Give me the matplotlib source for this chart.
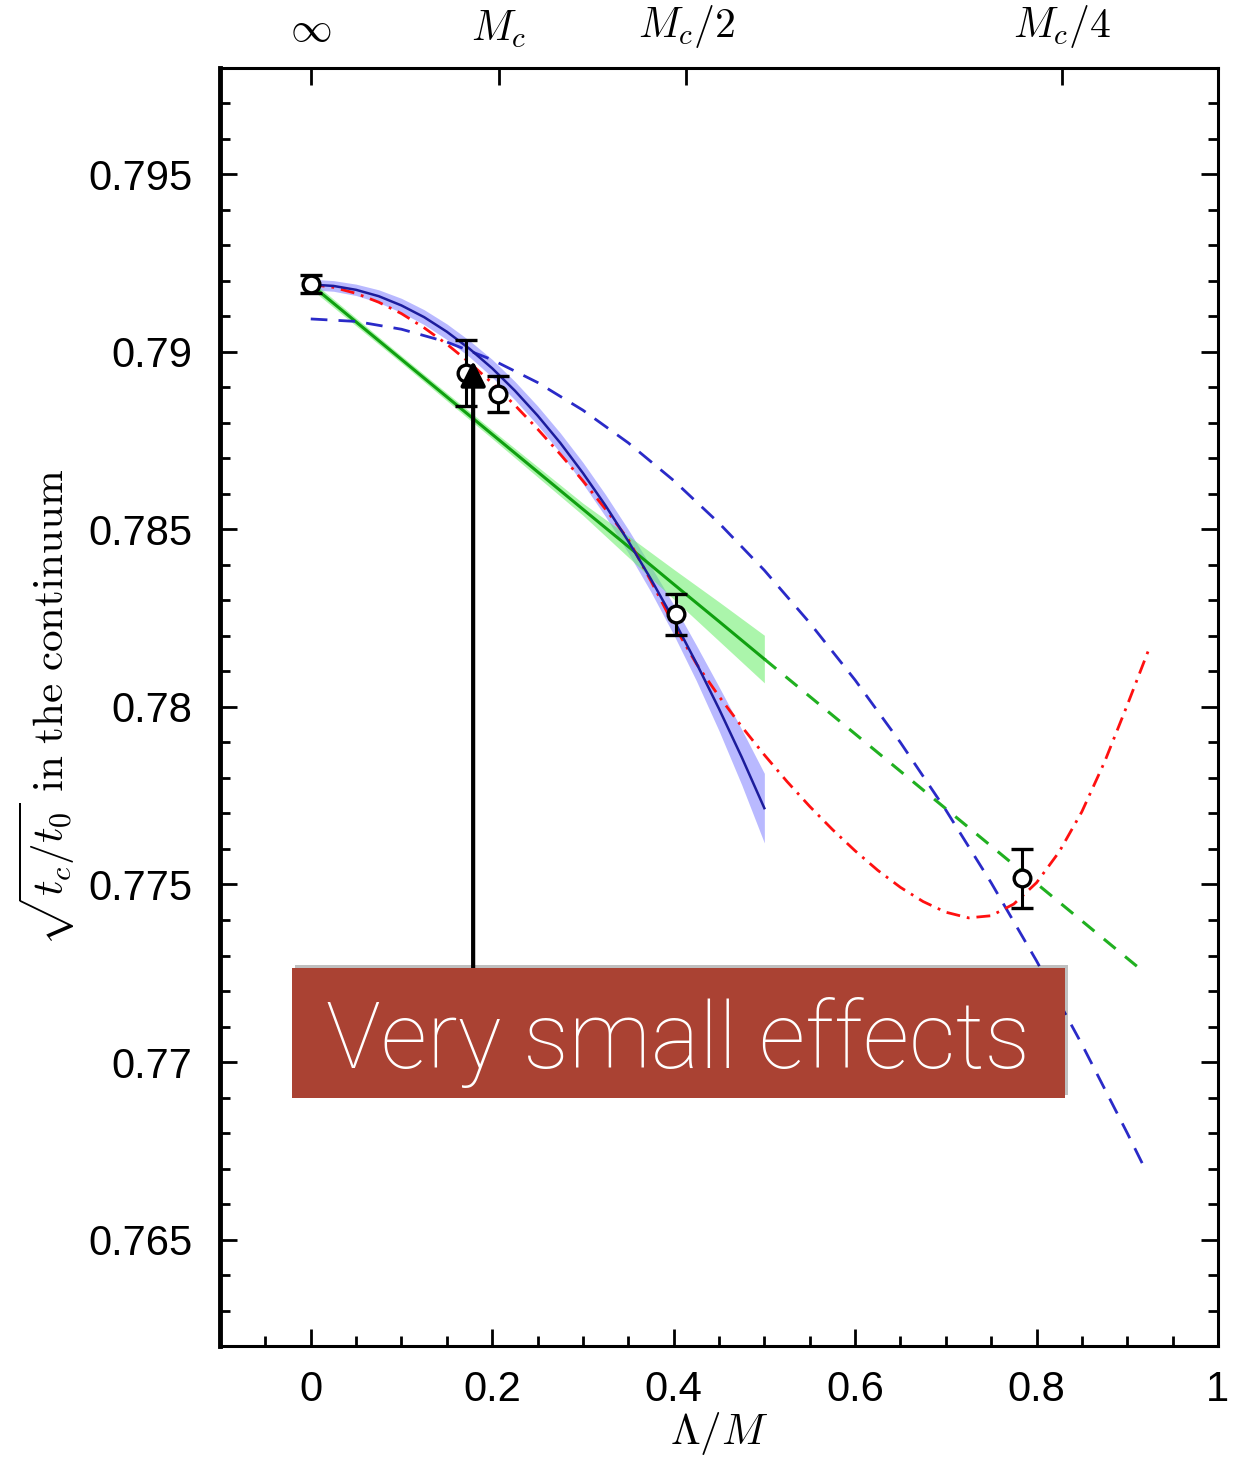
import numpy as np
import matplotlib.pyplot as plt
from matplotlib.patches import Rectangle
from matplotlib.ticker import MultipleLocator, FuncFormatter

plt.rcParams["mathtext.fontset"] = "cm"
plt.rcParams["font.family"] = ["Liberation Sans", "DejaVu Sans"]

# lattice points with errors
pt_x = [0.0, 0.171, 0.2066, 0.4022, 0.7845]
pt_y = [0.79191, 0.78941, 0.78882, 0.78261, 0.77517]
pt_err = [0.00025, 0.00093, 0.0005, 0.00057, 0.00084]

# blue solid fit with band (0 .. 0.5)
blue_x = [0.0, 0.025, 0.05, 0.075, 0.1, 0.125, 0.15, 0.175, 0.2, 0.225, 0.25,
          0.275, 0.3, 0.325, 0.35, 0.375, 0.4, 0.425, 0.45, 0.475, 0.5]
blue_y = [0.7919, 0.79186, 0.79175, 0.79157, 0.79131, 0.79098, 0.79057, 0.79009, 0.78954, 0.78891, 0.78821,
          0.78744, 0.78659, 0.78567, 0.78467, 0.7836, 0.78246, 0.78124, 0.77995, 0.77859, 0.77715]
blue_err = [0.00015, 0.00015, 0.00016, 0.00018, 0.0002, 0.00021, 0.00022, 0.00023, 0.00025, 0.00026, 0.00027,
            0.00028, 0.0003, 0.00031, 0.00033, 0.00036, 0.00042, 0.0005, 0.00062, 0.00078, 0.00098]

# green linear fit with band (0 .. 0.5), dashed continuation to 0.92
green_x = [0.0, 0.1, 0.2, 0.3, 0.35, 0.4, 0.45, 0.5]
green_y = [0.7919, 0.78979, 0.78768, 0.78557, 0.78452, 0.78346, 0.78241, 0.78135]
green_err = [0.00012, 0.0001, 0.00012, 0.00017, 0.0003, 0.00042, 0.00055, 0.00067]
green_ext_x = [0.5, 0.92]
green_ext_y = [0.78135, 0.7725]

# blue dashed fit
bdash_x = [0.0, 0.05, 0.1, 0.15, 0.2, 0.25, 0.3, 0.35, 0.4, 0.45, 0.5, 0.55, 0.6,
           0.65, 0.7, 0.75, 0.8, 0.85, 0.9, 0.92]
bdash_y = [0.79093, 0.79086, 0.79064, 0.79028, 0.78978, 0.78914, 0.78836, 0.78744, 0.78638, 0.78518, 0.78385,
           0.78237, 0.78076, 0.779, 0.7771, 0.77505, 0.77285, 0.7705, 0.768, 0.76697]

# red dash-dot fit
red_x = [0.0, 0.025, 0.05, 0.075, 0.1, 0.125, 0.15, 0.175, 0.2, 0.225, 0.25, 0.275, 0.3,
         0.325, 0.35, 0.375, 0.4, 0.425, 0.45, 0.475, 0.5, 0.525, 0.55, 0.575, 0.6,
         0.625, 0.65, 0.675, 0.7, 0.725, 0.75, 0.775, 0.8, 0.825, 0.85, 0.875, 0.9, 0.925]
red_y = [0.7919, 0.79182, 0.79165, 0.7914, 0.79108, 0.79068, 0.79022, 0.7897, 0.78912, 0.7885, 0.78783,
         0.78712, 0.78637, 0.78557, 0.78472, 0.78355, 0.78232, 0.78122, 0.7803, 0.77945, 0.77865,
         0.7779, 0.7772, 0.77655, 0.77595, 0.7754, 0.77492, 0.77452, 0.77422, 0.77406, 0.77412,
         0.77445, 0.77505, 0.77592, 0.77705, 0.77845, 0.78005, 0.7817]

top_ticks = [0.0, 0.207, 0.414, 0.828]
top_labels = [r"$\infty$", r"$M_c$", r"$M_c/2$", r"$M_c/4$"]

fig = plt.figure(figsize=(12.39, 14.58), dpi=100)
ax = fig.add_axes([0.1776, 0.0768, 0.8054, 0.8766])

ax.fill_between(blue_x, np.array(blue_y) - blue_err, np.array(blue_y) + blue_err,
                color="#8080ff", alpha=0.55, lw=0, zorder=1)
ax.fill_between(green_x, np.array(green_y) - green_err, np.array(green_y) + green_err,
                color="#66ee66", alpha=0.55, lw=0, zorder=1)
ax.plot(green_x, green_y, color="#10a010", lw=2.2, zorder=2)
ax.plot(green_ext_x, green_ext_y, color="#20b020", lw=2.2, ls=(0, (5, 4)), zorder=2)
ax.plot(bdash_x, bdash_y, color="#2a2ac8", lw=2.0, ls=(0, (6, 4)), zorder=2)
ax.plot(red_x, red_y, color="#ff1010", lw=2.0, ls=(0, (5, 2.5, 1, 2.5)), zorder=3)
ax.plot(blue_x, blue_y, color="#1c1c9c", lw=1.8, zorder=3)

ax.errorbar(pt_x, pt_y, yerr=pt_err, fmt="o", ms=12, mfc="white", mec="black", mew=2.4,
            ecolor="black", elinewidth=2.2, capsize=8, capthick=2.5, zorder=5)

ax.set_xlim(-0.1, 1.0)
ax.set_ylim(0.762, 0.798)
ax.xaxis.set_major_locator(MultipleLocator(0.2))
ax.xaxis.set_minor_locator(MultipleLocator(0.05))
ax.yaxis.set_major_locator(MultipleLocator(0.005))
ax.yaxis.set_minor_locator(MultipleLocator(0.001))
ax.xaxis.set_major_formatter(FuncFormatter(lambda v, p: "%g" % round(v, 3)))
ax.yaxis.set_major_formatter(FuncFormatter(lambda v, p: "%g" % round(v, 3)))
ax.tick_params(which="both", direction="in", top=False, right=True, width=2)
ax.tick_params(which="major", length=12, labelsize=30)
ax.tick_params(which="minor", length=7)
ax.tick_params(axis="x", pad=17)
ax.tick_params(axis="y", pad=20)
for s in ax.spines.values():
    s.set_linewidth(2.2)
ax.spines["left"].set_linewidth(3.5)

ax.set_xlabel(r"$\Lambda/M$", fontsize=31, labelpad=0)
ax.set_ylabel(r"$\sqrt{t_c/t_0}\ \mathrm{in\ the\ continuum}$", fontsize=31, labelpad=8)

top = ax.twiny()
top.set_xlim(ax.get_xlim())
top.set_xticks(top_ticks)
top.set_xticklabels(top_labels, fontsize=30)
top.tick_params(direction="in", length=12, width=2, pad=13)
top.xaxis.set_minor_locator(plt.NullLocator())

# annotation arrow and box
ax.annotate("", xy=(0.179, 0.78975), xytext=(0.179, 0.7724),
            arrowprops=dict(arrowstyle="-|>", lw=3, color="black", mutation_scale=38,
                            shrinkA=0, shrinkB=0), zorder=8)

fig.patches.append(Rectangle((0.2377, 0.2490), 0.6244, 0.0892, transform=fig.transFigure,
                             facecolor="black", alpha=0.25, lw=0, zorder=9))
fig.patches.append(Rectangle((0.2357, 0.2469), 0.6239, 0.0892, transform=fig.transFigure,
                             facecolor="#aa4233", lw=0, zorder=10))
fig.text(0.5476, 0.2675, "Very small effects", color="white", fontsize=66,
         family=["Roboto", "DejaVu Sans"], fontweight="light", ha="center", va="baseline", zorder=11)

plt.savefig("out.png", dpi=100)
